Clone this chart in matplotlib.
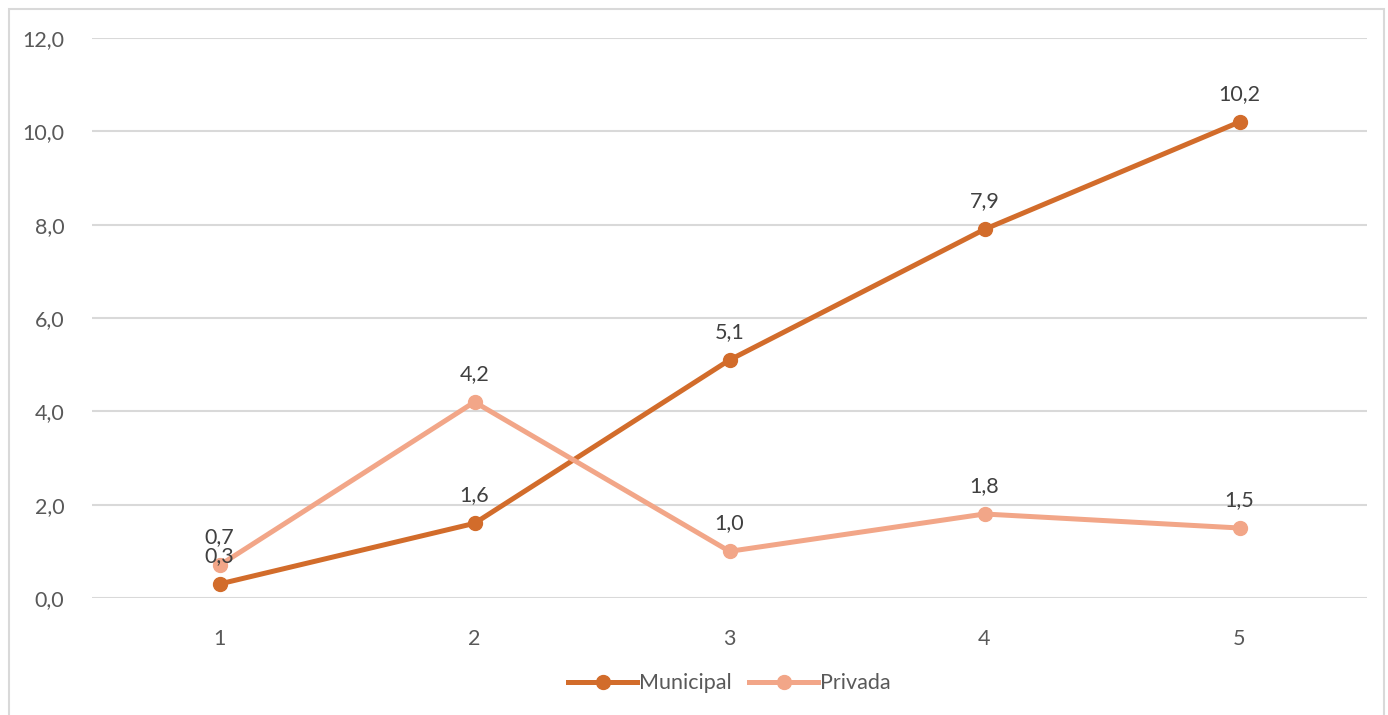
import matplotlib.pyplot as plt
from matplotlib.patches import Rectangle

# datos
categorias = [1, 2, 3, 4, 5]
municipal = [0.3, 1.6, 5.1, 7.9, 10.2]
privada = [0.7, 4.2, 1.0, 1.8, 1.5]

color_municipal = "#D26C2B"
color_privada = "#F2A688"
gris_texto = "#595959"

plt.rcParams["font.family"] = ["Lato", "DejaVu Sans"]

W, H = 1388, 715
fig = plt.figure(figsize=(W / 100, H / 100), dpi=100)
ax = fig.add_axes([92 / W, 1 - 598 / H, (1367 - 92) / W, (598 - 38) / H])

# marco exterior del grafico
fig.patches.append(Rectangle((9 / W, -0.05), (1384 - 9) / W, 1.05 - 9 / H,
                             transform=fig.transFigure, fill=False,
                             edgecolor="#D9D9D9", linewidth=1.5))

ax.plot(categorias, municipal, color=color_municipal, linewidth=3.6,
        marker="o", markersize=10, label="Municipal", zorder=3)
ax.plot(categorias, privada, color=color_privada, linewidth=3.6,
        marker="o", markersize=10, label="Privada", zorder=3)

# etiquetas de datos
for x, y in zip(categorias, municipal):
    ax.annotate(f"{y:.1f}".replace(".", ","), (x, y), xytext=(0, 13),
                textcoords="offset points", ha="center", va="bottom",
                fontsize=15.5, color="#404040")
for x, y in zip(categorias, privada):
    ax.annotate(f"{y:.1f}".replace(".", ","), (x, y), xytext=(0, 13),
                textcoords="offset points", ha="center", va="bottom",
                fontsize=15.5, color="#404040")

ax.set_xlim(0.5, 5.5)
ax.set_ylim(0, 12)
ax.set_yticks(range(0, 13, 2))
ax.set_yticklabels([f"{v:.1f}".replace(".", ",") for v in range(0, 13, 2)])
ax.set_xticks(categorias)
ax.grid(axis="y", color="#D9D9D9", linewidth=1.5)
ax.set_axisbelow(True)
for s in ax.spines.values():
    s.set_visible(False)
ax.tick_params(length=0, labelsize=15.5, labelcolor=gris_texto)
ax.tick_params(axis="y", pad=20)
ax.tick_params(axis="x", pad=22)

ax.legend(loc="center", bbox_to_anchor=(0.5, -0.152), ncol=2, frameon=False,
          fontsize=15.5, labelcolor=gris_texto, handlelength=3.2,
          handletextpad=0.1, columnspacing=0.8)

fig.savefig("out.png", dpi=100)
